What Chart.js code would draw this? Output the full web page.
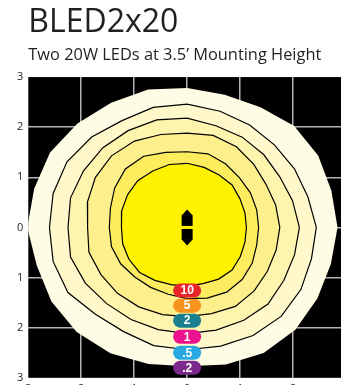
<!DOCTYPE html>
<html>
<head>
<meta charset="utf-8">
<script src="https://cdn.jsdelivr.net/npm/chart.js@4.4.0/dist/chart.umd.min.js"></script>
<style>
  html, body { margin: 0; padding: 0; background: #fff; overflow: hidden; }
  #wrap { width: 360px; height: 405px; }
</style>
</head>
<body>
<div id="wrap"><canvas id="chart" width="360" height="405"></canvas></div>
<script>
// footcandle contours, radius (ft) sampled every 15 degrees counter-clockwise from +x
const angleDeg = [0, 15, 30, 45, 60, 75, 90, 105, 120, 135, 150, 165,
                  180, 195, 210, 225, 240, 255, 270, 285, 300, 315, 330, 345];
const radius10 = [1.12, 1.13, 1.15, 1.20, 1.21, 1.24, 1.28, 1.30, 1.30, 1.32, 1.30, 1.28,
                  1.24, 1.26, 1.27, 1.27, 1.22, 1.18, 1.17, 1.16, 1.19, 1.20, 1.16, 1.13];
const radius5 = [1.35, 1.36, 1.38, 1.40, 1.46, 1.52, 1.51, 1.55, 1.64, 1.65, 1.58, 1.50,
                 1.47, 1.48, 1.45, 1.40, 1.38, 1.38, 1.42, 1.46, 1.49, 1.47, 1.42, 1.36];
const radius2 = [1.75, 1.73, 1.72, 1.78, 1.86, 1.90, 1.88, 1.92, 1.99, 2.02, 2.00, 1.95,
                 1.88, 1.92, 1.88, 1.86, 1.83, 1.80, 1.78, 1.78, 1.82, 1.79, 1.75, 1.74];
const radius1 = [2.12, 2.06, 2.02, 2.05, 2.08, 2.10, 2.18, 2.22, 2.23, 2.25, 2.26, 2.28,
                 2.25, 2.28, 2.22, 2.15, 2.12, 2.11, 2.12, 2.12, 2.14, 2.16, 2.11, 2.10];
const radiusHalf = [2.44, 2.36, 2.34, 2.33, 2.36, 2.40, 2.46, 2.48, 2.46, 2.55, 2.62, 2.62,
                    2.60, 2.62, 2.60, 2.45, 2.40, 2.44, 2.44, 2.45, 2.49, 2.51, 2.48, 2.43];
const radiusFifth = [2.84, 2.82, 2.86, 2.86, 2.77, 2.74, 2.78, 2.85, 2.87, 2.93, 2.99, 2.99,
                     3.02, 2.94, 2.96, 2.95, 2.90, 2.82, 2.77, 2.83, 2.89, 2.89, 2.84, 2.81];

const levelLabels = ['10', '5', '2', '1', '.5', '.2'];
const levelRadii = [radius10, radius5, radius2, radius1, radiusHalf, radiusFifth];
const bandColors = ['#fff200', '#fcec5e', '#fdf08c', '#fdf4ae', '#fef8cb', '#fffce6'];
const badgeColors = ['#e8262a', '#f7941e', '#1a7f8e', '#ec118d', '#29a9e0', '#7b2a8c'];
const badgeY = [-1.26, -1.56, -1.86, -2.18, -2.5, -2.8];

// two LEDs on the fixture, stacked along the y axis
const ledY = [0.14, -0.14];

const axisTicks = [-3, -2, -1, 0, 1, 2, 3];

function toPoints(radii) {
    const pts = radii.map((r, i) => {
        const a = angleDeg[i] * Math.PI / 180;
        return { x: r * Math.cos(a), y: r * Math.sin(a) };
    });
    pts.push(pts[0]); // close the loop
    return pts;
}

const datasets = levelRadii.map((radii, i) => {
    const outer = i === levelRadii.length - 1;
    return {
        label: levelLabels[i],
        data: toPoints(radii),
        showLine: true,
        fill: 'shape',
        backgroundColor: bandColors[i],
        borderColor: outer ? 'rgba(0,0,0,0)' : '#000',
        borderWidth: outer ? 0 : 1.2,
        pointRadius: 0,
        tension: 0,
        order: i
    };
});

const plotBackground = {
    id: 'plotBackground',
    beforeDraw(chart) {
        const { ctx, chartArea: a } = chart;
        ctx.save();
        ctx.fillStyle = '#000';
        ctx.fillRect(a.left, a.top, a.right - a.left, a.bottom - a.top);
        ctx.restore();
    }
};

function roundedBadge(ctx, cx, cy, w, h) {
    const r = h / 2;
    ctx.beginPath();
    ctx.moveTo(cx - w / 2 + r, cy - r);
    ctx.lineTo(cx + w / 2 - r, cy - r);
    ctx.arc(cx + w / 2 - r, cy, r, -Math.PI / 2, Math.PI / 2);
    ctx.lineTo(cx - w / 2 + r, cy + r);
    ctx.arc(cx - w / 2 + r, cy, r, Math.PI / 2, Math.PI * 1.5);
    ctx.closePath();
}

const fixtureAndBadges = {
    id: 'fixtureAndBadges',
    afterDraw(chart) {
        const { ctx, scales: { x, y } } = chart;
        const cx = x.getPixelForValue(0);
        ctx.save();

        // fixture: one box per LED with a small arrow pointing away from centre
        ctx.fillStyle = '#000';
        ledY.forEach(v => {
            const py = y.getPixelForValue(v);
            const dir = v > 0 ? -1 : 1;
            ctx.fillRect(cx - 5.5, py - 5.5, 11, 11);
            ctx.beginPath();
            ctx.moveTo(cx - 5, py + dir * 5.5);
            ctx.lineTo(cx + 5, py + dir * 5.5);
            ctx.lineTo(cx, py + dir * 11);
            ctx.closePath();
            ctx.fill();
        });

        // level badges
        ctx.font = 'bold 12px "Liberation Sans", Arial, sans-serif';
        ctx.textAlign = 'center';
        ctx.textBaseline = 'middle';
        levelLabels.forEach((lab, i) => {
            const py = y.getPixelForValue(badgeY[i]);
            ctx.fillStyle = badgeColors[i];
            roundedBadge(ctx, cx, py, 28, 14);
            ctx.fill();
            ctx.fillStyle = '#fff';
            ctx.fillText(lab, cx, py + 0.5);
        });
        ctx.restore();
    }
};

function gridColor(c) {
    const v = c.tick.value;
    return (v === -3 || v === 3) ? 'rgba(0,0,0,0)' : '#b3b3b3';
}

const tickFont = { family: '"Open Sans", sans-serif', size: 11 };

new Chart(document.getElementById('chart'), {
    type: 'scatter',
    data: { datasets },
    options: {
        responsive: false,
        animation: false,
        layout: { padding: { left: 12, right: 14, top: 0, bottom: 6 } },
        plugins: {
            legend: { display: false },
            tooltip: { enabled: false },
            title: {
                display: true,
                text: 'BLED2x20',
                align: 'start',
                fullSize: false,
                color: '#231f20',
                font: { family: '"Open Sans", sans-serif', size: 32, weight: 'normal' },
                padding: { top: 4, bottom: 0 }
            },
            subtitle: {
                display: true,
                text: 'Two 20W LEDs at 3.5\u2019 Mounting Height',
                align: 'start',
                fullSize: false,
                color: '#231f20',
                font: { family: '"Open Sans", sans-serif', size: 16.4, weight: 'normal' },
                padding: { top: 3, bottom: 12 }
            }
        },
        scales: {
            x: {
                type: 'linear',
                min: axisTicks[0],
                max: axisTicks[axisTicks.length - 1],
                afterBuildTicks: s => { s.ticks = axisTicks.map(v => ({ value: v })); },
                ticks: { color: '#231f20', font: tickFont, padding: 4, callback: v => Math.abs(v) },
                grid: { color: gridColor, lineWidth: 1.5, drawTicks: false },
                border: { display: false },
                z: 1
            },
            y: {
                type: 'linear',
                min: axisTicks[0],
                max: axisTicks[axisTicks.length - 1],
                afterBuildTicks: s => { s.ticks = axisTicks.map(v => ({ value: v })); },
                ticks: { color: '#231f20', font: tickFont, padding: 5, callback: v => Math.abs(v) },
                grid: { color: gridColor, lineWidth: 1.5, drawTicks: false },
                border: { display: false },
                z: 1
            }
        }
    },
    plugins: [plotBackground, fixtureAndBadges]
});
</script>
</body>
</html>
